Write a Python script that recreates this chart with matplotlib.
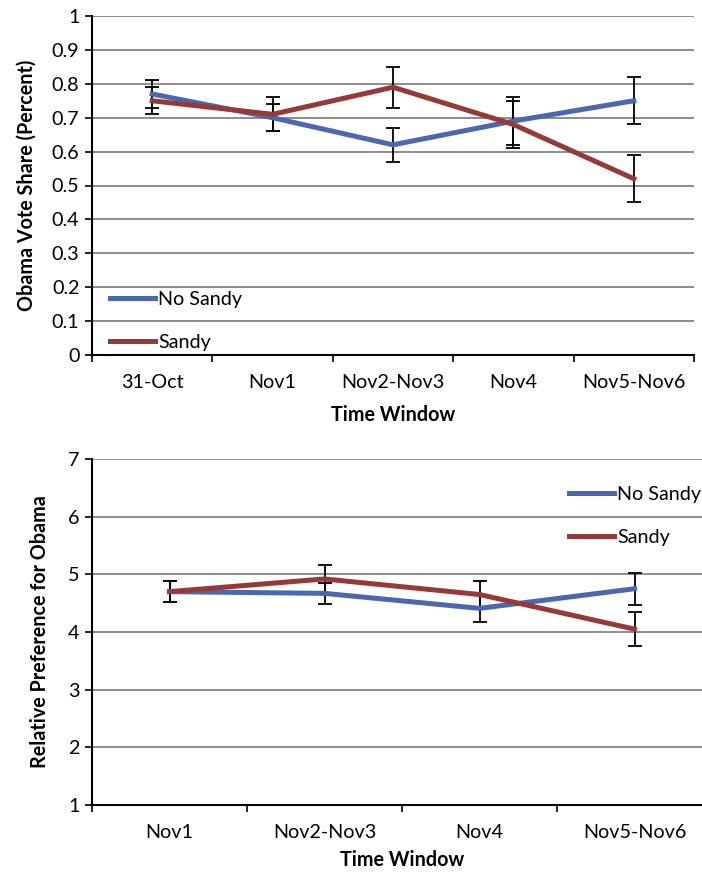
import numpy as np
import matplotlib
matplotlib.use("Agg")
import matplotlib.pyplot as plt

plt.rcParams['font.family'] = ['Lato', 'DejaVu Sans']

# top panel: Obama vote share
top_windows = ['31-Oct', 'Nov1', 'Nov2-Nov3', 'Nov4', 'Nov5-Nov6']
top_nosandy = [0.77, 0.70, 0.62, 0.69, 0.75]
top_nosandy_err = [0.04, 0.04, 0.05, 0.07, 0.07]
top_sandy = [0.75, 0.71, 0.79, 0.68, 0.52]
top_sandy_err = [0.04, 0.05, 0.06, 0.07, 0.07]

# bottom panel: relative preference
bot_windows = ['Nov1', 'Nov2-Nov3', 'Nov4', 'Nov5-Nov6']
bot_nosandy = [4.70, 4.67, 4.41, 4.75]
bot_nosandy_err = [0.18, 0.18, 0.24, 0.28]
bot_sandy = [4.70, 4.92, 4.65, 4.05]
bot_sandy_err = [0.18, 0.24, 0.24, 0.30]

BLUE = '#4A67AF'
RED = '#963A38'
GRID = '#8C8C8C'
FS = 14.2
W, H = 702, 874

fig = plt.figure(figsize=(W / 100, H / 100), dpi=100)


def px_axes(x0, x1, y_top, y_bot):
    return fig.add_axes([x0 / W, 1 - y_bot / H, (x1 - x0) / W, (y_bot - y_top) / H])


def style(ax, cats, ylim, yticks, ylabel, xpad, ypad):
    n = len(cats)
    ax.set_xlim(-0.5, n - 0.5)
    ax.set_ylim(*ylim)
    ax.set_yticks(yticks)
    ax.set_xticks(np.arange(n + 1) - 0.5)
    ax.set_xticklabels([])
    ax.set_xticks(np.arange(n), minor=True)
    ax.set_xticklabels(cats, minor=True, fontsize=FS)
    ax.tick_params(axis='x', which='minor', length=0, pad=14)
    ax.tick_params(axis='x', which='major', length=5, width=1.2, direction='out')
    ax.tick_params(axis='y', length=5, width=1.2, direction='out', pad=4, labelsize=FS)
    for s in ['top', 'right']:
        ax.spines[s].set_visible(False)
    for s in ['left', 'bottom']:
        ax.spines[s].set_linewidth(1.5)
    ax.grid(axis='y', color=GRID, lw=1.4)
    ax.set_axisbelow(True)
    ax.set_xlabel('Time Window', fontsize=FS, fontweight='bold', labelpad=xpad)
    ax.set_ylabel(ylabel, fontsize=FS, fontweight='bold', labelpad=ypad)


def draw(ax, cats, nosandy, nosandy_err, sandy, sandy_err):
    x = np.arange(len(cats))
    ax.errorbar(x, nosandy, yerr=nosandy_err, fmt='none', ecolor='black',
                elinewidth=1.3, capsize=5, capthick=1.3, zorder=3)
    ax.errorbar(x, sandy, yerr=sandy_err, fmt='none', ecolor='black',
                elinewidth=1.3, capsize=5, capthick=1.3, zorder=3)
    ax.plot(x, nosandy, color=BLUE, lw=3.6, label='No Sandy', zorder=4)
    ax.plot(x, sandy, color=RED, lw=3.6, label='Sandy', zorder=4)


def legend(ax, xpx, ypx):
    ax.legend(loc='upper left', bbox_to_anchor=(xpx / W, 1 - ypx / H), bbox_transform=fig.transFigure,
              frameon=False, fontsize=FS, handlelength=2.3, handletextpad=0.15,
              labelspacing=1.3, borderaxespad=0, borderpad=0)


# top
ax1 = px_axes(92, 694, 16, 355)
draw(ax1, top_windows, top_nosandy, top_nosandy_err, top_sandy, top_sandy_err)
style(ax1, top_windows, (0, 1), np.arange(0, 1.01, 0.1), 'Obama Vote Share (Percent)', 10, 11)
ax1.set_yticklabels(['0', '0.1', '0.2', '0.3', '0.4', '0.5', '0.6', '0.7', '0.8', '0.9', '1'])
legend(ax1, 110, 291)

# bottom
ax2 = px_axes(92, 712, 459, 805)
draw(ax2, bot_windows, bot_nosandy, bot_nosandy_err, bot_sandy, bot_sandy_err)
style(ax2, bot_windows, (1, 7), np.arange(1, 8), 'Relative Preference for Obama', 6, 13)
legend(ax2, 569, 486)

fig.savefig('out.png', dpi=100)
